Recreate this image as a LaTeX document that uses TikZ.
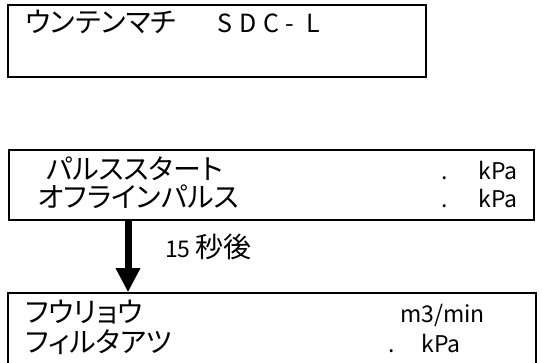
\documentclass[tikz,border=0pt]{standalone}
\usepackage{fontspec}
\setmainfont{Noto Sans CJK JP}
\newfontfamily\jpfont[RawFeature=+palt]{Noto Sans CJK JP}
\usetikzlibrary{arrows.meta}
\newcommand\jpsize{\jpfont\fontsize{28}{33}\selectfont}

\begin{document}
\begin{tikzpicture}[x=1pt,y=1pt,>={Triangle[width=23pt,length=24pt]},
  panel/.style={draw, line width=1.5pt, inner sep=0pt},
  lbl/.style={anchor=base west, inner sep=0pt, font=\fontsize{23}{28}\selectfont},
  jplbl/.style={lbl, font=\jpsize}]
  \useasboundingbox (0,0) rectangle (542,363);
  % panels
  \node [panel, minimum width=418pt, minimum height=72pt] (mode)  at (217,322)   {};
  \node [panel, minimum width=525pt, minimum height=70pt] (pulse) at (271.5,178) {};
  \node [panel, minimum width=528pt, minimum height=90pt] (flow)  at (272,25)    {};
  % texts
  \node [jplbl] (modename) at (25,330)  {ウンテンマチ};
  \node [lbl]   (modeval)  at (217,330) {\fontsize{25}{30}\selectfont\addfontfeature{LetterSpace=28}SDC- L};
  \node [jplbl] (start)    at (46,183)  {パルススタート};
  \node [lbl]   (startval) at (441,183) {.\hspace{31pt}kPa};
  \node [jplbl] (offline)  at (38,155)  {オフラインパルス};
  \node [lbl]   (offval)   at (441,155) {.\hspace{31pt}kPa};
  \node [lbl]   (delay)    at (165,105) {15 {\jpsize 秒後}};
  \node [jplbl] (air)      at (25,40)   {フウリョウ};
  \node [lbl]   (airval)   at (400,40)  {m3/min};
  \node [jplbl] (filter)   at (25,10)   {フィルタアツ};
  \node [lbl]   (filtval)  at (388,10)  {.\hspace{27pt}kPa};
  % transition
  \coordinate (ax) at (128,0);
  \draw [->, line width=7pt] (pulse.south -| ax) -- (flow.north -| ax);
\end{tikzpicture}
\end{document}
